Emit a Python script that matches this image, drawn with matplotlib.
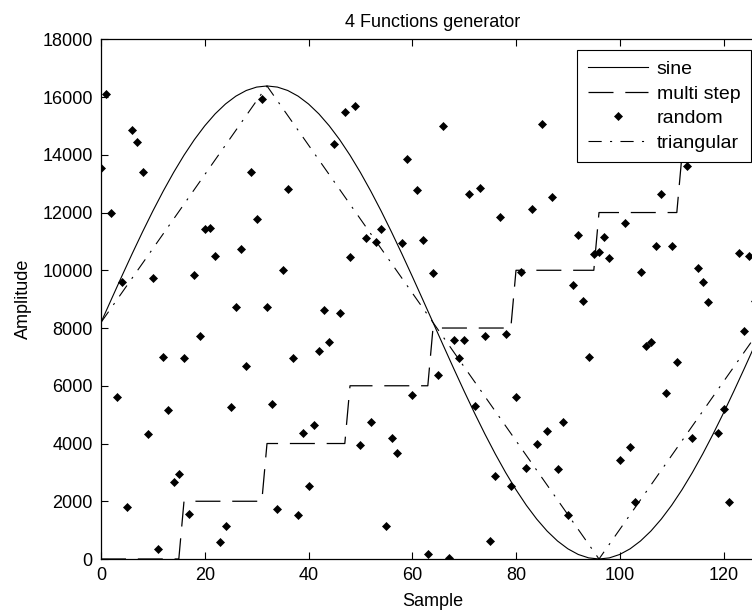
import matplotlib
matplotlib.use("Agg")
import matplotlib.pyplot as plt

plt.rcParams['font.family'] = ['Liberation Sans', 'DejaVu Sans']
plt.rcParams['lines.scale_dashes'] = False

# ---- data ----
sine_x = [0, 2, 4, 6, 8, 10, 12, 14, 16, 18, 20, 22, 24, 26, 28, 30, 32, 34, 36, 38,
          40, 42, 44, 46, 48, 50, 52, 54, 56, 58, 60, 62, 64, 66, 68, 70, 72, 74, 76, 78,
          80, 82, 84, 86, 88, 90, 92, 94, 96, 98, 100, 102, 104, 106, 108, 110, 112, 114,
          116, 118, 120, 122, 124, 126, 127]
sine_y = [8192, 8995, 9790, 10570, 11327, 12054, 12743, 13389, 13985, 14525, 15003,
          15417, 15760, 16031, 16227, 16345, 16384, 16345, 16227, 16031, 15760, 15417,
          15003, 14525, 13985, 13389, 12743, 12054, 11327, 10570, 9790, 8995, 8192, 7389,
          6594, 5814, 5057, 4330, 3641, 2995, 2399, 1859, 1381, 967, 624, 353, 157, 39, 0,
          39, 157, 353, 624, 967, 1381, 1859, 2399, 2995, 3641, 4330, 5057, 5814, 6594,
          7389, 7790]

step_x = [0, 15, 16, 31, 32, 47, 48, 63, 64, 79, 80, 95, 96, 111, 112, 127]
step_y = [0, 0, 2000, 2000, 4000, 4000, 6000, 6000, 8000, 8000, 10000, 10000,
          12000, 12000, 14000, 14000]

tri_x = [0, 32, 96, 127]
tri_y = [8192, 16384, 0, 7936]

rand_x = [0, 1, 2, 3, 4, 5, 6, 7, 8, 9, 10, 11, 12, 13, 14, 15, 16, 17, 18, 19, 20,
          21, 22, 23, 24, 25, 26, 27, 28, 29, 30, 31, 32, 33, 34, 35, 36, 37, 38, 39,
          40, 41, 42, 43, 44, 45, 46, 47, 48, 49, 50, 51, 52, 53, 54, 55, 56, 57, 58,
          59, 60, 61, 62, 63, 64, 65, 66, 67, 68, 69, 70, 71, 72, 73, 74, 75, 76, 77,
          78, 79, 80, 81, 82, 83, 84, 85, 86, 87, 88, 89, 90, 91, 92, 93, 94, 95, 96,
          97, 98, 100, 101, 102, 103, 104, 105, 106, 107, 108, 109, 110, 111, 113, 114,
          115, 116, 117, 119, 120, 121, 123, 124, 125, 126]
rand_y = [13532, 16095, 12000, 5621, 9594, 1791, 14848, 14432, 13415, 4319, 9743, 346,
          6996, 5150, 2678, 2944, 6951, 1569, 9847, 7734, 11430, 11475, 10484, 578, 1154,
          5254, 8728, 10748, 6685, 13415, 11787, 15922, 8728, 5358, 1732, 10010, 12805,
          6951, 1524, 4375, 2518, 4631, 7204, 8635, 7526, 14374, 8531, 15471, 10470,
          15690, 3938, 11108, 4735, 10990, 11419, 1154, 4202, 3682, 10945, 13844, 5680,
          12791, 11060, 163, 9896, 6373, 14997, 45, 7574, 6951, 7574, 12632, 5310, 12839,
          7734, 623, 2885, 11845, 7782, 2528, 5621, 9940, 3152, 12112, 3994, 15056, 4423,
          12528, 3107, 4735, 1524, 9490, 11212, 8946, 6996, 10564, 10622, 11165, 10425,
          3418, 11627, 3890, 1985, 9951, 7377, 7526, 10852, 12632, 5738, 10852, 6835,
          13612, 4202, 10068, 9584, 8901, 4375, 5195, 1985, 10588, 7897, 10494, 8946]

x_ticks = [0, 20, 40, 60, 80, 100, 120]
y_ticks = [0, 2000, 4000, 6000, 8000, 10000, 12000, 14000, 16000, 18000]

# ---- figure ----
W, H = 752, 611
fig = plt.figure(figsize=(W / 100, H / 100), dpi=100)
ax = fig.add_axes([101 / W, 1 - 559 / H, (765 - 101) / W, (559 - 39.3) / H])

ax.plot(sine_x, sine_y, color='black', lw=0.8, label='sine')
ax.plot(step_x, step_y, color='black', lw=0.9, dashes=(18, 8.5), label='multi step')
ax.plot(rand_x, rand_y, linestyle='none', marker='D', ms=3.8, mfc='black',
        mec='black', mew=0.5, label='random')
ax.plot(tri_x, tri_y, color='black', lw=0.8, dashes=(9.5, 6, 1.5, 6), label='triangular')

ax.set_xlim(0, 128)
ax.set_ylim(0, 18000)
ax.set_xticks(x_ticks)
ax.set_yticks(y_ticks)
ax.set_xticklabels([str(v) for v in x_ticks])
ax.set_yticklabels([str(v) for v in y_ticks])
ax.tick_params(direction='in', length=5, width=0.8, labelsize=13, pad=6,
               top=True, right=True, colors='black')
for s in ax.spines.values():
    s.set_linewidth(0.9)
    s.set_color('black')

ax.set_title('4 Functions generator', fontsize=13, pad=9)
ax.set_xlabel('Sample', fontsize=13, labelpad=6)
ax.set_ylabel('Amplitude', fontsize=13, labelpad=7)

leg = ax.legend(loc='upper right', bbox_to_anchor=(751 / W, 1 - 50 / H),
                bbox_transform=fig.transFigure, borderaxespad=0, fontsize=14,
                handlelength=3.1, handletextpad=0.45, borderpad=0.55,
                labelspacing=0.35, numpoints=1, fancybox=False, framealpha=1,
                edgecolor='black')
leg.get_frame().set_linewidth(0.8)

fig.savefig('out.png', dpi=100)
